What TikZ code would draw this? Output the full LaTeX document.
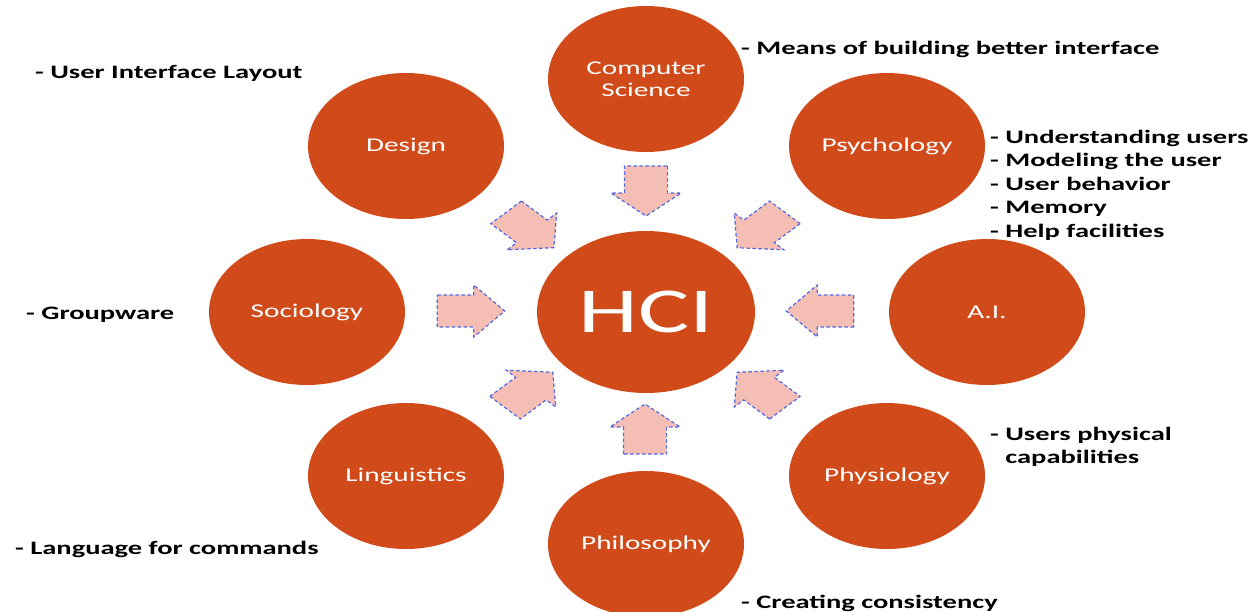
\documentclass[tikz,border=0pt]{standalone}
\usepackage{fontspec}
\setmainfont{Carlito}[FakeStretch=1.5]
\usetikzlibrary{positioning, shapes.geometric}
\definecolor{hcirust}{RGB}{209,74,25}
\definecolor{arrowpink}{RGB}{245,190,180}
\definecolor{dashblue}{RGB}{85,105,225}
\tikzset{
	field/.style={ellipse, fill=hcirust, text=white, minimum width=196pt, minimum height=146pt, inner sep=0pt, align=center, font=\fontsize{19.5}{22}\selectfont},
	note/.style={anchor=west, align=left, inner sep=0pt, font=\fontsize{19}{23.5}\selectfont\bfseries},
	pics/inflow/.style={code={
		\draw[fill=arrowpink, draw=dashblue, line width=1.2pt, dash pattern=on 3.5pt off 2.5pt] (-25,-16) -- (2,-16) -- (2,-26) -- (25,0) -- (2,26) -- (2,16) -- (-25,16) --cycle;
	}}
}

\begin{document}
\begin{tikzpicture}[x=1pt, y=-1pt]
		\useasboundingbox (0,0) rectangle (1249,611);
		% fields round the centre
		\node[field] (cs) at (646,79) {Computer\\Science};
		\node[field] (design) at (406,146) {Design};
		\node[field] (psych) at (887,146) {Psychology};
		\node[field] (socio) at (307,312) {Sociology};
		\node[field] (ai) at (987,312) {A.I.};
		\node[field] (ling) at (406,476) {Linguistics};
		\node[field] (physio) at (887,476) {Physiology};
		\node[field] (philo) at (646,544) {Philosophy};
		\node[field, minimum width=218pt, minimum height=162pt, font=\fontsize{64}{64}\selectfont] (hci) at (646,312) {HCI};
		% arrows into HCI
		\pic[xscale=1.35, rotate=-90] (intop) at (646,191) {inflow};
		\pic[xscale=1.35, rotate=-45] (intopleft) at (530,230) {inflow};
		\pic[xscale=1.35, rotate=-135] (intopright) at (761,230) {inflow};
		\pic[xscale=1.35] (inleft) at (471,311) {inflow};
		\pic[xscale=1.35, rotate=180] (inright) at (820,311) {inflow};
		\pic[xscale=1.35, rotate=45] (inbotleft) at (529,390) {inflow};
		\pic[xscale=1.35, rotate=135] (inbotright) at (761,390) {inflow};
		\pic[xscale=1.35, rotate=90] (inbot) at (645,429) {inflow};
		% notes
		\node[note] (csnote) at (741,49) {- Means of building better interface};
		\node[note] (designnote) at (35,73) {- User Interface Layout};
		\node[note] (psychnote) at (990,185) {- Understanding users\\- Modeling the user\\- User behavior\\- Memory\\- Help facilities};
		\node[note] (socionote) at (26,315) {- Groupware};
		\node[note] (physionote) at (990,447) {- Users physical\\\phantom{- }capabilities};
		\node[note] (lingnote) at (15,549) {- Language for commands};
		\node[note] (philonote) at (741,603) {- Creating consistency};
	\end{tikzpicture}
\end{document}
